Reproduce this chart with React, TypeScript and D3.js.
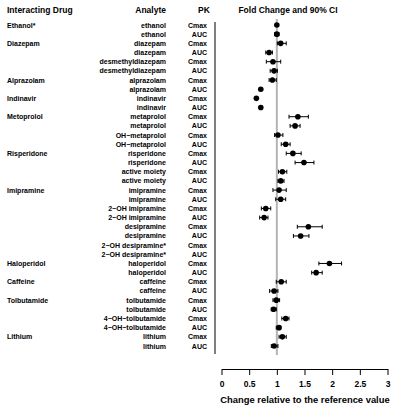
import React, { useEffect, useRef } from "react";
import * as d3 from "d3";

// rows top to bottom
const drugs = ["Ethanol*", "", "Diazepam", "", "", "", "Alprazolam", "", "Indinavir", "",
  "Metoprolol", "", "", "", "Risperidone", "", "", "", "Imipramine", "", "", "", "", "", "", "",
  "Haloperidol", "", "Caffeine", "", "Tolbutamide", "", "", "", "Lithium", ""];
const analytes = ["ethanol", "ethanol", "diazepam", "diazepam", "desmethyldiazepam", "desmethyldiazepam",
  "alprazolam", "alprazolam", "indinavir", "indinavir", "metaprolol", "metaprolol",
  "OH\u2212metaprolol", "OH\u2212metaprolol", "risperidone", "risperidone", "active moiety", "active moiety",
  "imipramine", "imipramine", "2\u2212OH imipramine", "2\u2212OH imipramine", "desipramine", "desipramine",
  "2\u2212OH desipramine*", "2\u2212OH desipramine*", "haloperidol", "haloperidol", "caffeine", "caffeine",
  "tolbutamide", "tolbutamide", "4\u2212OH\u2212tolbutamide", "4\u2212OH\u2212tolbutamide", "lithium", "lithium"];
const pk = analytes.map((d, i) => (i % 2 === 0 ? "Cmax" : "AUC"));
const fold = [1.0, 1.0, 1.07, 0.86, 0.93, 0.95, 0.92, 0.71, 0.63, 0.71,
  1.38, 1.33, 1.02, 1.16, 1.29, 1.49, 1.1, 1.07, 1.04, 1.07, 0.8, 0.77, 1.57, 1.43,
  null, null, 1.95, 1.71, 1.08, 0.95, 0.99, 0.94, 1.16, 1.04, 1.1, 0.95];
const ciLow = [0.98, 0.96, 1.01, 0.8, 0.81, 0.88, 0.86, 0.69, 0.61, 0.69,
  1.22, 1.24, 0.96, 1.08, 1.17, 1.33, 1.03, 1.02, 0.93, 0.98, 0.72, 0.69, 1.37, 1.3,
  null, null, 1.76, 1.63, 0.99, 0.87, 0.93, 0.9, 1.09, 0.99, 1.04, 0.9];
const ciHigh = [1.02, 1.04, 1.17, 0.92, 1.07, 1.01, 0.99, 0.73, 0.65, 0.73,
  1.57, 1.42, 1.11, 1.24, 1.44, 1.67, 1.18, 1.13, 1.17, 1.16, 0.89, 0.84, 1.82, 1.58,
  null, null, 2.17, 1.82, 1.17, 1.02, 1.05, 0.99, 1.22, 1.07, 1.17, 1.02];
const xTicks = [0, 0.5, 1, 1.5, 2, 2.5, 3];

const App = () => {
  const ref = useRef<SVGSVGElement>(null);

  useEffect(() => {
    const svg = d3.select(ref.current);
    svg.selectAll("*").remove();
    const font = "'Liberation Sans', Arial, sans-serif";
    svg.attr("font-family", font).attr("font-weight", "bold").attr("fill", "#000");

    const x = d3.scaleLinear().domain([0, 3]).range([221.5, 387.5]);
    const y = d3.scalePoint<number>().domain(d3.range(analytes.length)).range([25, 346]);

    // headers
    const head = svg.append("g").attr("font-size", 8.5).attr("fill", "#000");
    head.append("text").attr("x", 7).attr("y", 13).text("Interacting Drug");
    head.append("text").attr("x", 166).attr("y", 13).attr("text-anchor", "end").text("Analyte");
    head.append("text").attr("x", 204).attr("y", 13).attr("text-anchor", "middle").text("PK");
    head.append("text").attr("x", 288).attr("y", 13).attr("text-anchor", "middle").text("Fold Change and 90% CI");

    // row labels
    const rows = svg.append("g").attr("font-size", 7).attr("fill", "#000").attr("dominant-baseline", "central");
    rows.selectAll(".drug").data(drugs).join("text").attr("class", "drug")
      .attr("x", 7).attr("y", (d, i) => y(i)!).text((d) => d);
    rows.selectAll(".analyte").data(analytes).join("text").attr("class", "analyte")
      .attr("x", 166).attr("y", (d, i) => y(i)!).attr("text-anchor", "end").text((d) => d);
    rows.selectAll(".pk").data(pk).join("text").attr("class", "pk")
      .attr("x", 207).attr("y", (d, i) => y(i)!).attr("text-anchor", "end").text((d) => d);

    // left line and reference line
    svg.append("line").attr("x1", 215).attr("x2", 215).attr("y1", 22).attr("y2", 354)
      .attr("stroke", "#000").attr("stroke-width", 1);
    svg.append("line").attr("x1", x(1)).attr("x2", x(1)).attr("y1", 19).attr("y2", 355)
      .attr("stroke", "#b4b4b4").attr("stroke-width", 2);

    // error bars + points
    const idx = d3.range(fold.length).filter((i) => fold[i] !== null);
    const g = svg.append("g").attr("stroke", "#000").attr("stroke-width", 1);
    g.selectAll(".ci").data(idx).join("line").attr("class", "ci")
      .attr("x1", (i) => x(ciLow[i]!)).attr("x2", (i) => x(ciHigh[i]!))
      .attr("y1", (i) => y(i)!).attr("y2", (i) => y(i)!);
    g.selectAll(".capL").data(idx).join("line").attr("class", "capL")
      .attr("x1", (i) => x(ciLow[i]!)).attr("x2", (i) => x(ciLow[i]!))
      .attr("y1", (i) => y(i)! - 2).attr("y2", (i) => y(i)! + 2);
    g.selectAll(".capH").data(idx).join("line").attr("class", "capH")
      .attr("x1", (i) => x(ciHigh[i]!)).attr("x2", (i) => x(ciHigh[i]!))
      .attr("y1", (i) => y(i)! - 2).attr("y2", (i) => y(i)! + 2);
    svg.append("g").selectAll("circle").data(idx).join("circle")
      .attr("cx", (i) => x(fold[i]!)).attr("cy", (i) => y(i)!).attr("r", 2.8).attr("fill", "#000");

    // x axis
    const axis = svg.append("g").attr("transform", "translate(0,369)")
      .call(d3.axisBottom(x).tickValues(xTicks).tickSize(6).tickSizeOuter(0).tickPadding(6)
        .tickFormat((d) => String(d)));
    axis.attr("font-family", font).attr("font-size", 8.5).attr("font-weight", "bold");
    axis.selectAll("text").attr("fill", "#000");
    axis.selectAll("line,path").attr("stroke", "#000");

    svg.append("text").attr("x", 305).attr("y", 403).attr("text-anchor", "middle")
      .attr("font-size", 9.4).attr("fill", "#000").text("Change relative to the reference value");
  }, []);

  return (
    <svg ref={ref} width={395} height={410}
      style={{ position: "absolute", left: 0, top: 0, background: "#fff" }} />
  );
};

export default App;
